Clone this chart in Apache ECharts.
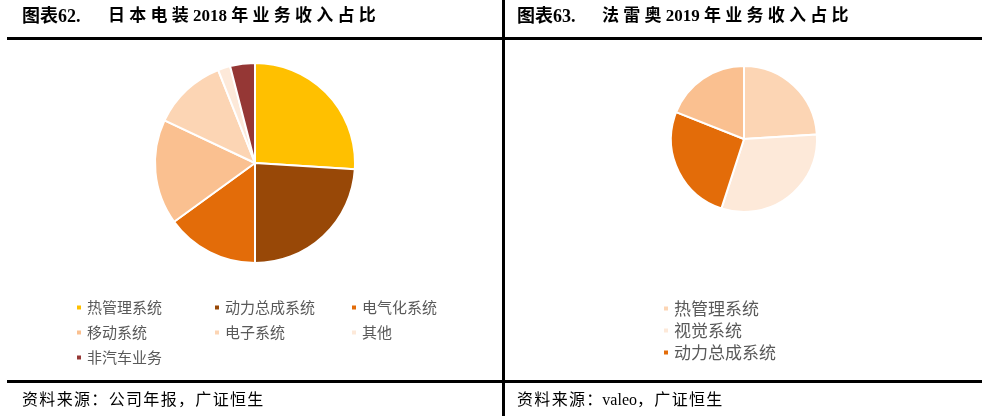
<!DOCTYPE html>
<html>
<head>
<meta charset="utf-8">
<script src="https://cdn.jsdelivr.net/npm/echarts@6/dist/echarts.min.js"></script>
<style>
  html, body { margin: 0; padding: 0; background: #fff; }
  #left { position: absolute; left: 0; top: 0; width: 502px; height: 416px; }
  #right { position: absolute; left: 502px; top: 0; width: 488px; height: 416px; }
</style>
</head>
<body>
<div id="left"></div>
<div id="right"></div>
<script>
// ---------------- 数据 ----------------
// 图表62 日本电装 2018 年业务收入占比（%）
let densoNames = ['热管理系统', '动力总成系统', '电气化系统', '移动系统', '电子系统', '其他', '非汽车业务'];
let densoValues = [26, 24, 15, 17, 12, 2, 4];
let densoColors = ['#ffc000', '#984807', '#e36c09', '#fac090', '#fcd5b4', '#fde9d9', '#953735'];

// 图表63 法雷奥 2019 年业务收入占比（%）
let valeoNames = ['热管理系统', '视觉系统', '动力总成系统', '舒适及驾驶辅助系统'];
let valeoValues = [24, 31, 26, 19];
let valeoColors = ['#fcd5b4', '#fde9d9', '#e36c09', '#fac090'];
let valeoLegend = ['热管理系统', '视觉系统', '动力总成系统'];

let serif = "'Liberation Serif', 'Noto Sans CJK SC', serif";
let cjk = "'Noto Sans CJK SC', sans-serif";

function pieData(names, values, colors) {
  return names.map(function (n, i) {
    return { name: n, value: values[i], itemStyle: { color: colors[i] } };
  });
}

// 字间加一点空隙
function spaced(s) {
  return s.split('').join('\u200a');
}

function frame(x0, x1, title1, t1x, title2, t2x, source) {
  return [
    // 标题
    { type: 'text', left: t1x, top: 8, style: { text: title1, font: 'bold 18px ' + serif, fill: '#000' } },
    { type: 'text', left: t2x, top: 8, style: { text: title2, font: 'bold 17px ' + serif, fill: '#000' } },
    // 粗线
    { type: 'rect', shape: { x: x0, y: 37, width: x1 - x0, height: 3 }, style: { fill: '#000' } },
    { type: 'rect', shape: { x: x0, y: 380, width: x1 - x0, height: 3 }, style: { fill: '#000' } },
    // 资料来源
    { type: 'text', left: t1x, top: 393, style: { text: source, font: '16px ' + serif, fill: '#000' } }
  ];
}

// ---------------- 左图 ----------------
(function () {
  let chart = echarts.init(document.getElementById('left'));
  let legendBase = {
    orient: 'vertical',
    top: 295,
    icon: 'rect',
    itemWidth: 6,
    itemHeight: 6,
    itemGap: 10,
    textStyle: { color: '#595959', fontSize: 15, lineHeight: 15, fontFamily: cjk }
  };
  chart.setOption({
    animation: false,
    graphic: frame(7, 502, '图表62.', 22, '日 本 电 装 2018 年 业 务 收 入 占 比', 108,
      spaced('资料来源：公司年报，广证恒生')),
    legend: [
      Object.assign({ left: 70, data: ['热管理系统', '移动系统', '非汽车业务'] }, legendBase),
      Object.assign({ left: 208, data: ['动力总成系统', '电子系统'] }, legendBase),
      Object.assign({ left: 345, data: ['电气化系统', '其他'] }, legendBase)
    ],
    series: [
      {
        type: 'pie',
        center: [255, 163],
        radius: 100,
        startAngle: 90,
        label: { show: false },
        labelLine: { show: false },
        itemStyle: { borderColor: '#fff', borderWidth: 2 },
        emphasis: { disabled: true },
        data: pieData(densoNames, densoValues, densoColors)
      }
    ]
  });
})();

// ---------------- 右图 ----------------
(function () {
  let chart = echarts.init(document.getElementById('right'));
  let g = frame(0, 480, '图表63.', 15, '法 雷 奥 2019 年 业 务 收 入 占 比', 100,
    spaced('资料来源：') + 'valeo' + spaced('，广证恒生'));
  // 中间竖线
  g.push({ type: 'rect', shape: { x: 0, y: 0, width: 3, height: 416 }, style: { fill: '#000' } });
  chart.setOption({
    animation: false,
    graphic: g,
    legend: {
      orient: 'vertical',
      left: 155,
      top: 295,
      icon: 'rect',
      itemWidth: 6,
      itemHeight: 6,
      itemGap: 5,
      itemTextGap: 7,
      textStyle: { color: '#595959', fontSize: 17, lineHeight: 17, fontFamily: cjk },
      data: valeoLegend
    },
    series: [
      {
        type: 'pie',
        center: [242, 139],
        radius: 73,
        startAngle: 90,
        label: { show: false },
        labelLine: { show: false },
        itemStyle: { borderColor: '#fff', borderWidth: 2 },
        emphasis: { disabled: true },
        data: pieData(valeoNames, valeoValues, valeoColors)
      }
    ]
  });
})();
</script>
</body>
</html>
